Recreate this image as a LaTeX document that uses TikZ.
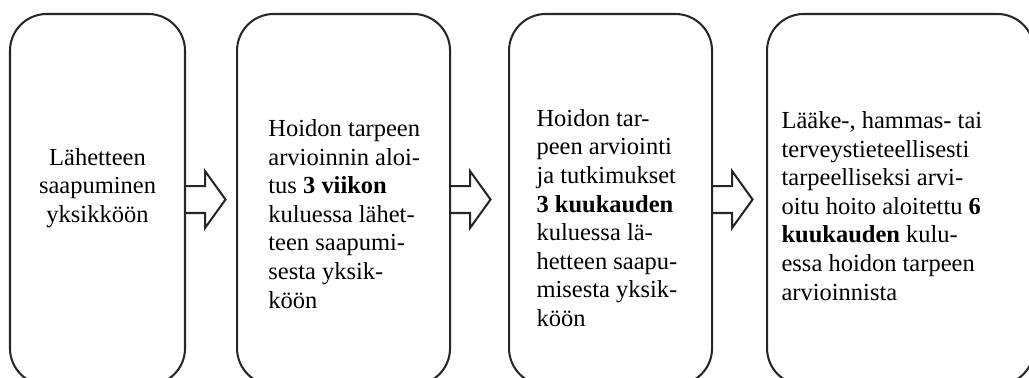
\documentclass[tikz,border=0pt]{standalone}
\usepackage{fontspec}
\setmainfont{Liberation Serif}
\usetikzlibrary{positioning}

\begin{document}
\begin{tikzpicture}[
    stage/.style={draw=black!85, line width=1pt, rounded corners=18pt,
                  minimum height=6.39cm, inner sep=0pt},
    txt/.style={inner sep=0pt, font=\fontsize{12pt}{14pt}\selectfont, align=left},
    blockarr/.style={draw=black!85, line width=1pt, line join=miter},
]

%% -- page frame, the boxes run off the bottom edge -------------------------
\path[use as bounding box] (0,0) rectangle (17.72,6.493);
\clip (0,0) rectangle (17.72,6.493);

%% -- stages ----------------------------------------------------------------
\node[stage, minimum width=3.014cm] (b1) at (1.679, 3.057) {};
\node[stage, minimum width=3.668cm] (b2) at (5.916, 3.057) {};
\node[stage, minimum width=3.496cm] (b3) at (10.514, 3.057) {};
\node[stage, minimum width=4.598cm] (b4) at (15.508, 3.057) {};

%% -- texts -----------------------------------------------------------------
\node[txt, align=center, yshift=0.203cm] (t1) at (b1) {Lähetteen\\saapuminen\\yksikköön};
\node[txt, right=0.551cm of b2.west, yshift=-0.25cm] (t2)
      {Hoidon tarpeen\\arvioinnin aloi-\\tus \textbf{3 viikon}\\kuluessa lähet-\\teen saapumi-\\sesta yksik-\\köön};
\node[txt, right=0.484cm of b3.west, yshift=-0.319cm] (t3)
      {Hoidon tar-\\peen arviointi\\ja tutkimukset\\\textbf{3 kuukauden}\\kuluessa lä-\\hetteen saapu-\\misesta yksik-\\köön};
\node[txt, right=0.261cm of b4.west, yshift=-0.112cm] (t4)
      {Lääke-, hammas- tai\\terveystieteellisesti\\tarpeelliseksi arvi-\\oitu hoito aloitettu \textbf{6}\\\textbf{kuukauden} kulu-\\essa hoidon tarpeen\\arvioinnista};

%% -- hollow block arrows ---------------------------------------------------
\foreach \b in {b1, b2, b3}
  \draw[blockarr] ([yshift=0.232cm]\b.east) -- ++(0.327,0) -- ++(0,0.258)
      -- ++(0.353,-0.49) -- ++(-0.353,-0.49) -- ++(0,0.258) -- ++(-0.327,0);

\end{tikzpicture}
\end{document}
